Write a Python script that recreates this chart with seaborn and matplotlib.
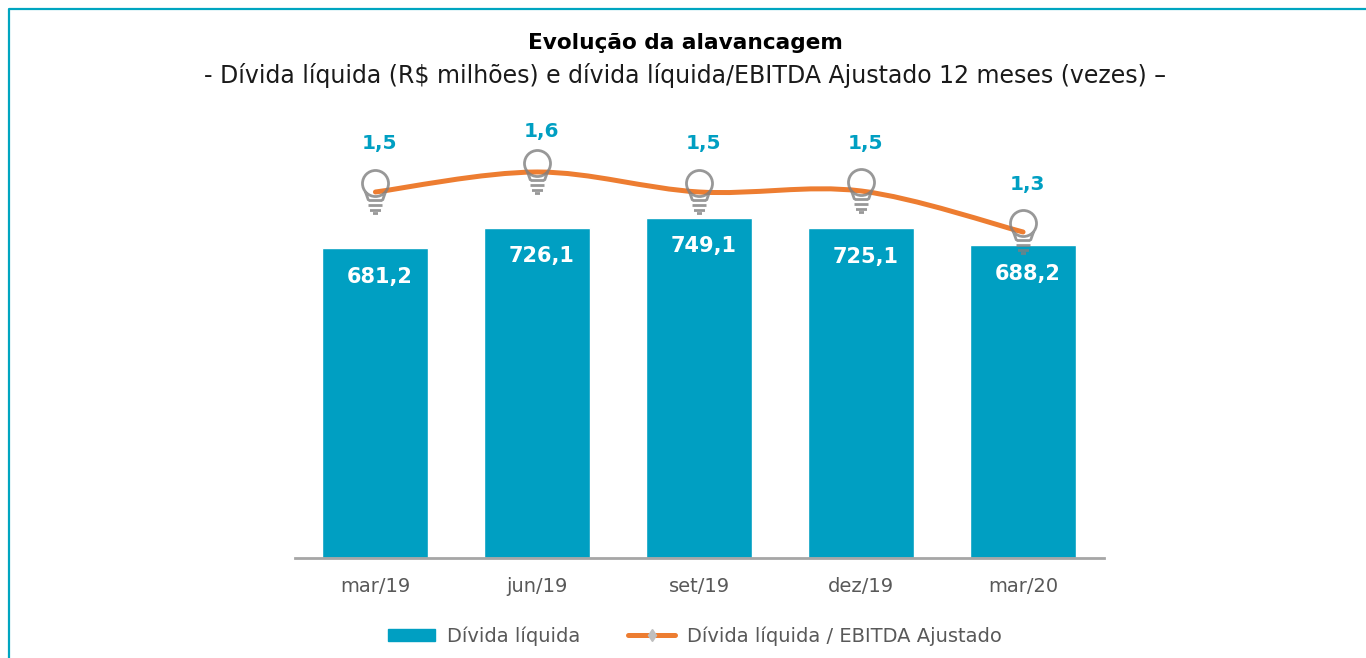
import matplotlib
matplotlib.use("Agg")
import matplotlib.pyplot as plt
import numpy as np
import seaborn as sns
from matplotlib.lines import Line2D
from matplotlib.patches import Patch, PathPatch
from matplotlib.path import Path

# Data
periods = ["mar/19", "jun/19", "set/19", "dez/19", "mar/20"]
divida_liquida = [681.2, 726.1, 749.1, 725.1, 688.2]
alavancagem = [1.50, 1.60, 1.50, 1.505, 1.30]
divida_labels = ["681,2", "726,1", "749,1", "725,1", "688,2"]
alavancagem_labels = ["1,5", "1,6", "1,5", "1,5", "1,3"]

TEAL = "#009FC2"
ORANGE = "#ED7D31"
GREY = "#595959"
W, H = 1366, 658

sns.set_theme(style="white")
plt.rcParams["font.family"] = ["DejaVu Sans"]


def bulb_marker():
    # light bulb drawn around the data point, y up, in pixels
    parts = [Path.circle((0, 9), 13)]
    for y, half in [(-8, 7), (-13, 7), (-18, 5.5), (-21, 2.5)]:
        parts.append(Path([(-half, y), (half, y)], [Path.MOVETO, Path.LINETO]))
    for side in (-1, 1):
        parts.append(Path([(side * 10, 0.5), (side * 7, -8)], [Path.MOVETO, Path.LINETO]))
    return Path.make_compound_path(*parts)


def smooth_path(xs, ys):
    # same kind of smoothed line the spreadsheet uses: one bezier per segment
    pts = np.column_stack([xs, ys])
    verts, codes = [pts[0]], [Path.MOVETO]
    for i in range(len(pts) - 1):
        p0 = pts[max(i - 1, 0)]
        p1, p2 = pts[i], pts[i + 1]
        p3 = pts[min(i + 2, len(pts) - 1)]
        verts += [p1 + (p2 - p0) / 6, p2 - (p3 - p1) / 6, p2]
        codes += [Path.CURVE4] * 3
    return Path(verts, codes)


fig = plt.figure(figsize=(W / 100, H / 100), dpi=100)
ax = fig.add_axes([294.5 / W, 1 - 558 / H, 809.5 / W, 448 / H])

sns.barplot(x=periods, y=divida_liquida, color=TEAL, saturation=1, width=0.655, ax=ax)
ax.set_xlim(-0.5, 4.5)
ax.set_ylim(0, 985.7)
ax.set_yticks([])
ax.grid(False)
for side in ["top", "left", "right"]:
    ax.spines[side].set_visible(False)
ax.spines["bottom"].set_color("#A6A6A6")
ax.spines["bottom"].set_linewidth(2)
ax.tick_params(axis="x", length=0, pad=14, labelsize=14, labelcolor=GREY)

for i, (v, lab) in enumerate(zip(divida_liquida, divida_labels)):
    ax.annotate(lab, (i, v), xytext=(3, -20.5), textcoords="offset points",
                ha="center", va="center", color="white", fontsize=15, fontweight="bold")

ax2 = ax.twinx()
ax2.set_ylim(-0.33, 1.91)
ax2.set_yticks([])
ax2.grid(False)
for side in ax2.spines:
    ax2.spines[side].set_visible(False)

xpos = np.arange(len(periods))
ax2.add_patch(PathPatch(smooth_path(xpos, alavancagem), fill=False, edgecolor=ORANGE,
                        linewidth=3.6, capstyle="round", zorder=3))
ax2.plot(xpos, alavancagem, linestyle="none", marker=bulb_marker(), markersize=31.7,
         markerfacecolor="none", markeredgecolor="#7F7F7F", markeredgewidth=2.0,
         alpha=0.8, zorder=4)

label_offsets = [35, 29.5, 35, 34, 34.5]
for i, (v, lab, off) in enumerate(zip(alavancagem, alavancagem_labels, label_offsets)):
    ax2.annotate(lab, (i, v), xytext=(3, off), textcoords="offset points",
                 ha="center", va="center", color=TEAL, fontsize=14.5, fontweight="bold")

fig.text(685 / W, 1 - 43 / H, "Evolução da alavancagem", ha="center", va="center",
         color="black", fontsize=15.6, fontweight="bold")
fig.text(685 / W, 1 - 75 / H,
         "- Dívida líquida (R$ milhões) e dívida líquida/EBITDA Ajustado 12 meses (vezes) –",
         ha="center", va="center", color="#1A1A1A", fontsize=17)

handles = [
    Patch(color=TEAL),
    Line2D([], [], color=ORANGE, linewidth=3.6, solid_capstyle="round", marker="d",
           markersize=6, markerfacecolor="#BFBFBF", markeredgecolor="#BFBFBF"),
]
fig.legend(handles, ["Dívida líquida", "Dívida líquida / EBITDA Ajustado"],
           loc="center", bbox_to_anchor=(695 / W, 1 - 636 / H), ncol=2, frameon=False,
           fontsize=14, labelcolor=GREY, handlelength=2.4, handleheight=0.6,
           handletextpad=0.6, columnspacing=2.5)

# frame of the panel: only the left and top edges show
fig.add_artist(Line2D([9 / W, 9 / W, 1], [0, 1 - 9 / H, 1 - 9 / H],
                      color="#00A5C0", linewidth=1.6, transform=fig.transFigure))

fig.savefig("out.png", dpi=100)
